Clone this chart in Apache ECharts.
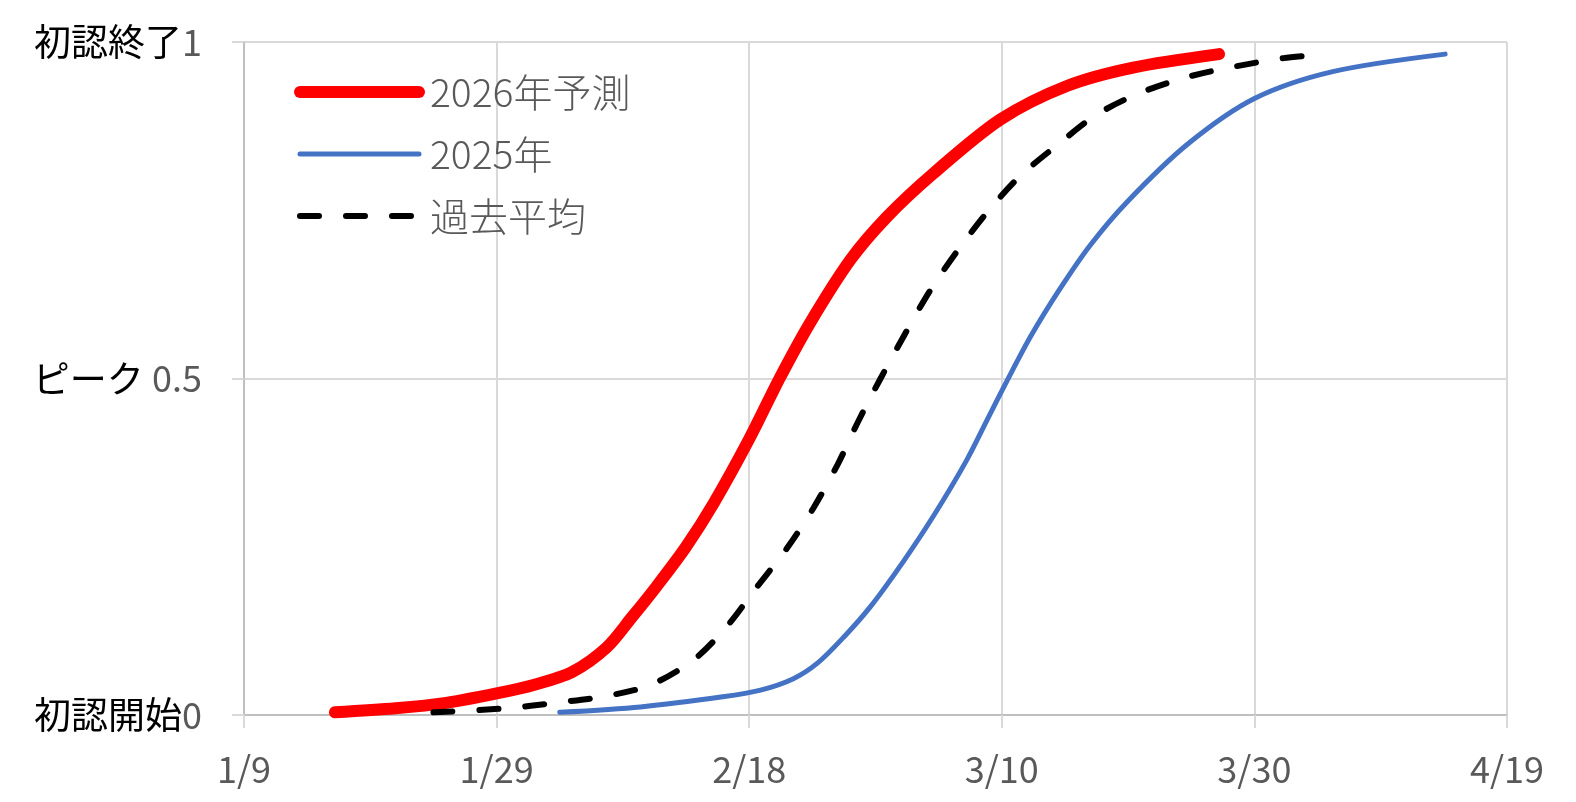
<!DOCTYPE html>
<html>
<head>
<meta charset="utf-8">
<script src="https://cdn.jsdelivr.net/npm/echarts@6/dist/echarts.min.js"></script>
<style>
  html, body { margin: 0; padding: 0; background: #fff; }
  #chart { width: 1576px; height: 802px; }
</style>
</head>
<body>
<div id="chart"></div>
<script>
// x = days since 1/9
const xTickLabels = ['1/9', '1/29', '2/18', '3/10', '3/30', '4/19'];
const yTickValues = [0, 0.5, 1];
const yCaptions = ['初認開始', 'ピーク ', '初認終了'];
const seriesNames = ['2026年予測', '2025年', '過去平均'];

const forecast2026 = [
  [7.2, 0.004], [12, 0.01], [16, 0.018], [20, 0.032], [23, 0.045], [26, 0.064],
  [28.7, 0.1], [30.7, 0.145], [32.7, 0.192], [35, 0.25], [37.2, 0.315], [40, 0.41],
  [42.4, 0.5], [44.8, 0.582], [48, 0.676], [50.9, 0.74], [54.6, 0.805],
  [59.9, 0.885], [65.2, 0.935], [70.4, 0.962], [77.2, 0.982]
];
const actual2025 = [
  [25, 0.004], [31.4, 0.012], [37.9, 0.027], [40.9, 0.037], [43.5, 0.054],
  [45.4, 0.077], [47.5, 0.116], [49.6, 0.161], [52.2, 0.228], [54.6, 0.296],
  [57.2, 0.378], [58.8, 0.437], [60.4, 0.496], [62.3, 0.563], [64.6, 0.633],
  [67, 0.698], [69.9, 0.762], [74.7, 0.848], [80, 0.916], [86.2, 0.956], [95.1, 0.982]
];
const pastAverage = [
  [15, 0.004], [20.8, 0.01], [24.6, 0.018], [28.3, 0.027], [32.1, 0.044],
  [35.6, 0.082], [38.2, 0.131], [40.6, 0.19], [43, 0.248], [45.1, 0.308],
  [47, 0.372], [48.6, 0.435], [50.4, 0.5], [52.3, 0.565], [54.3, 0.63],
  [56.5, 0.69], [58.8, 0.746], [61.4, 0.8], [64.4, 0.847], [67.5, 0.892],
  [70.9, 0.924], [74.7, 0.948], [78.3, 0.963], [82.3, 0.976], [85.2, 0.981]
];

const FONT = "'Noto Sans CJK JP', 'Noto Sans', sans-serif";
const chart = echarts.init(document.getElementById('chart'));

chart.setOption({
  animation: false,
  backgroundColor: '#fff',
  grid: { left: 244, right: 69, top: 42, bottom: 87 },
  legend: {
    orient: 'vertical',
    left: 289,
    top: 65,
    itemWidth: 119,
    itemHeight: 14,
    itemGap: 18,
    itemStyle: { opacity: 0 },
    textStyle: {
      fontFamily: FONT, fontSize: 39, fontWeight: 300, color: '#595959',
      lineHeight: 44, padding: [0, 0, 0, 6]
    },
    data: [
      { name: seriesNames[0], lineStyle: { width: 12, cap: 'round' } },
      { name: seriesNames[1], lineStyle: { width: 5, cap: 'round' } },
      { name: seriesNames[2], lineStyle: { width: 6, cap: 'round', type: [19, 27] } }
    ]
  },
  xAxis: {
    type: 'value',
    min: 0, max: 100, interval: 20,
    axisLine: { lineStyle: { color: '#bfbfbf', width: 2 } },
    axisTick: { show: true, length: 13, lineStyle: { color: '#d9d9d9', width: 2 } },
    splitLine: { show: true, lineStyle: { color: '#d9d9d9', width: 2 } },
    axisLabel: {
      margin: 36,
      fontFamily: FONT, fontSize: 36, color: '#595959',
      formatter: (v) => xTickLabels[Math.round(v / 20)]
    }
  },
  yAxis: {
    type: 'value',
    min: 0, max: 1, interval: 0.5,
    axisLine: { show: true, lineStyle: { color: '#bfbfbf', width: 2 } },
    axisTick: { show: true, length: 12, lineStyle: { color: '#d9d9d9', width: 2 } },
    splitLine: { show: true, lineStyle: { color: '#d9d9d9', width: 2 } },
    axisLabel: {
      margin: 42,
      formatter: (v) => {
        const i = yTickValues.indexOf(v);
        return '{a|' + yCaptions[i] + '}{b|' + v + '}';
      },
      rich: {
        a: { fontFamily: FONT, fontSize: 37, color: '#000' },
        b: { fontFamily: FONT, fontSize: 36, color: '#595959' }
      }
    }
  },
  series: [
    {
      name: seriesNames[0], type: 'line', data: forecast2026,
      smooth: 0.3, symbol: 'none', color: '#ff0000',
      lineStyle: { width: 12, color: '#ff0000', cap: 'round' }
    },
    {
      name: seriesNames[1], type: 'line', data: actual2025,
      smooth: 0.3, symbol: 'none', color: '#4472c4',
      lineStyle: { width: 5, color: '#4472c4', cap: 'round' }
    },
    {
      name: seriesNames[2], type: 'line', data: pastAverage,
      smooth: 0.3, symbol: 'none', color: '#000000',
      lineStyle: { width: 6, color: '#000000', type: [19, 27], cap: 'round' }
    }
  ]
});
</script>
</body>
</html>
